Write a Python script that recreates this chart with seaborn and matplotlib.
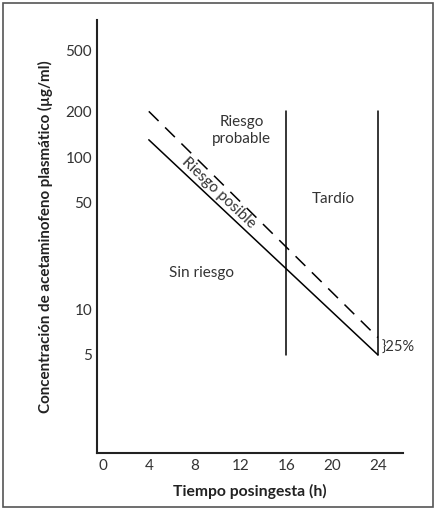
import matplotlib
matplotlib.use('Agg')
import matplotlib.pyplot as plt
import seaborn as sns
import pandas as pd
from matplotlib.patches import Rectangle

# Datos del nomograma
horas = [4, 24]
linea_alta = [200, 6.5]   # línea discontinua
linea_baja = [130, 5]     # línea continua
cortes_x = [16, 24]       # líneas verticales
cortes_y = [5, 200]

x_ticks = [0, 4, 8, 12, 16, 20, 24]
y_ticks = [5, 10, 50, 100, 200, 500]

sns.set_style('white')
plt.rcParams['font.family'] = ['Lato', 'DejaVu Sans']

fig = plt.figure(figsize=(4.36, 5.09), dpi=100)
ax = fig.add_axes([0.2225, 0.110, 0.702, 0.851])

df = pd.DataFrame({'Hora': horas + horas,
                   'Conc': linea_alta + linea_baja,
                   'Linea': ['alta'] * 2 + ['baja'] * 2})
sns.lineplot(data=df[df['Linea'] == 'alta'], x='Hora', y='Conc', ax=ax,
             color='black', lw=1.1, dashes=False, linestyle=(0, (9, 6)))
sns.lineplot(data=df[df['Linea'] == 'baja'], x='Hora', y='Conc', ax=ax,
             color='black', lw=1.1)
for xv in cortes_x:
    ax.plot([xv, xv], cortes_y, color='black', lw=1.1)

ax.set_yscale('log')
ax.set_ylim(1.13, 800)
ax.set_xlim(-0.52, 26.2)
ax.set_xticks(x_ticks)
ax.set_xticklabels([str(v) for v in x_ticks])
ax.set_yticks(y_ticks)
ax.set_yticklabels([str(v) for v in y_ticks])
ax.minorticks_off()
ax.tick_params(direction='in', length=4, width=1.1, colors='black',
               labelcolor='#333333', labelsize=11)
ax.tick_params(axis='x', pad=4)

for s in ['top', 'right']:
    ax.spines[s].set_visible(False)
for s in ['left', 'bottom']:
    ax.spines[s].set_color('#222222')
    ax.spines[s].set_linewidth(1.5)

ax.set_xlabel('Tiempo posingesta (h)', fontsize=11.3, fontweight='bold',
              color='#222222', labelpad=8)
ax.set_ylabel('Concentración de acetaminofeno plasmático (µg/ml)', fontsize=10.9,
              fontweight='bold', color='#222222', labelpad=9)

txt = dict(fontsize=11, color='#333333', ha='center', va='center')
ax.text(12.1, 150, 'Riesgo\nprobable', linespacing=1.3, **txt)
ax.text(20.1, 53, 'Tardío', **txt)
ax.text(8.6, 17.3, 'Sin riesgo', **txt)
ax.text(10.1, 58, 'Riesgo posible', rotation=-43.5, rotation_mode='anchor', **txt)
ax.text(24.35, 5.6, '}25%', fontsize=10.5, color='#333333', ha='left', va='center')

fig.patches.append(Rectangle((0.006, 0.004), 0.988, 0.99, transform=fig.transFigure,
                             fill=False, edgecolor='#555555', lw=1.2))

fig.savefig('out.png', dpi=100)
